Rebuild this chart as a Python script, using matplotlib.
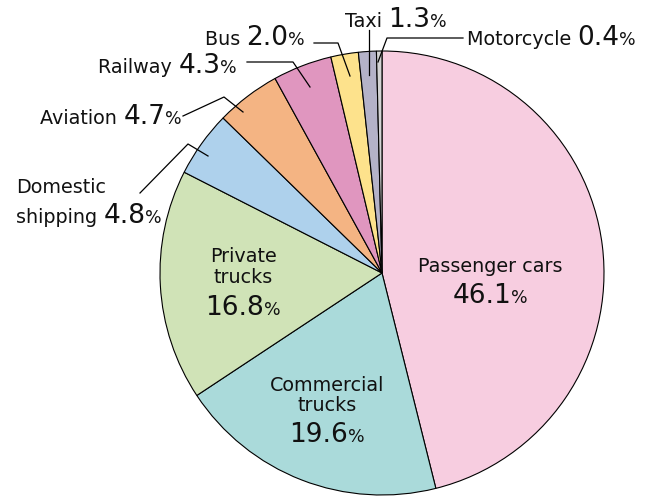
import matplotlib
matplotlib.use("Agg")
import matplotlib.pyplot as plt

# data (share of transport CO2, %)
categories = ["Passenger cars", "Commercial trucks", "Private trucks", "Domestic shipping",
              "Aviation", "Railway", "Bus", "Taxi", "Motorcycle"]
shares = [46.1, 19.6, 16.8, 4.8, 4.7, 4.3, 2.0, 1.3, 0.4]
colors = ["#F7CDE0", "#AADADA", "#D0E3B7", "#AED1EC", "#F4B483",
          "#E096BF", "#FDE28C", "#B4B2C8", "#D3D3D3"]

W, H = 649, 497
plt.rcParams['font.family'] = ['DejaVu Sans']

fig = plt.figure(figsize=(W / 100, H / 100), dpi=100)
ax = fig.add_axes([0, 0, 1, 1])

cx, cy, r = 382, 273, 222
ax.pie(shares, colors=colors, startangle=90, counterclock=False,
       center=(cx, H - cy), radius=r,
       wedgeprops=dict(edgecolor="black", linewidth=0.8))
ax.set_xlim(0, W)
ax.set_ylim(0, H)
ax.set_aspect("equal")
ax.axis("off")

renderer = fig.canvas.get_renderer()
NAME, NUM, PCT = 13.8, 19, 12.5


def put(parts, x, y, ha="left"):
    # parts: list of (text, size); x,y in image pixels (y = baseline)
    arts = [ax.text(0, 0, s, fontsize=fs, va="baseline", ha="left", color="#111111")
            for s, fs in parts]
    widths = [a.get_window_extent(renderer).width for a in arts]
    total = sum(widths)
    if ha == "right":
        x0 = x - total
    elif ha == "center":
        x0 = x - total / 2
    else:
        x0 = x
    for a, w in zip(arts, widths):
        a.set_position((x0, H - y))
        x0 += w


def lead(pts):
    ax.plot([p[0] for p in pts], [H - p[1] for p in pts], color="black", lw=0.9)


def val(v):
    return [(f"{v}", NUM), ("%", PCT)]


sh = dict(zip(categories, shares))

# inside labels
put([("Passenger cars", NAME)], 490, 272, "center")
put(val(sh["Passenger cars"]), 490, 303, "center")
put([("Commercial", NAME)], 327, 391, "center")
put([("trucks", NAME)], 327, 411, "center")
put(val(sh["Commercial trucks"]), 327, 442, "center")
put([("Private", NAME)], 243, 262, "center")
put([("trucks", NAME)], 243, 283, "center")
put(val(sh["Private trucks"]), 243, 315, "center")

# outside labels
put([("Motorcycle ", NAME)] + val(sh["Motorcycle"]), 467, 45, "left")
lead([(378, 62), (387, 38), (463, 38)])
put([("Taxi ", NAME)] + val(sh["Taxi"]), 345, 27, "left")
lead([(369, 30), (369, 75)])
put([("Bus ", NAME)] + val(sh["Bus"]), 305, 45, "right")
lead([(314, 43), (338, 43), (350, 76)])
put([("Railway ", NAME)] + val(sh["Railway"]), 237, 73, "right")
lead([(247, 62), (293, 62), (310, 87)])
put([("Aviation ", NAME)] + val(sh["Aviation"]), 182, 124, "right")
lead([(183, 116), (224, 97), (243, 112)])
put([("Domestic", NAME)], 16, 193, "left")
put([("shipping ", NAME)] + val(sh["Domestic shipping"]), 16, 223, "left")
lead([(140, 193), (188, 144), (208, 156)])

fig.savefig("out.png", dpi=100)
